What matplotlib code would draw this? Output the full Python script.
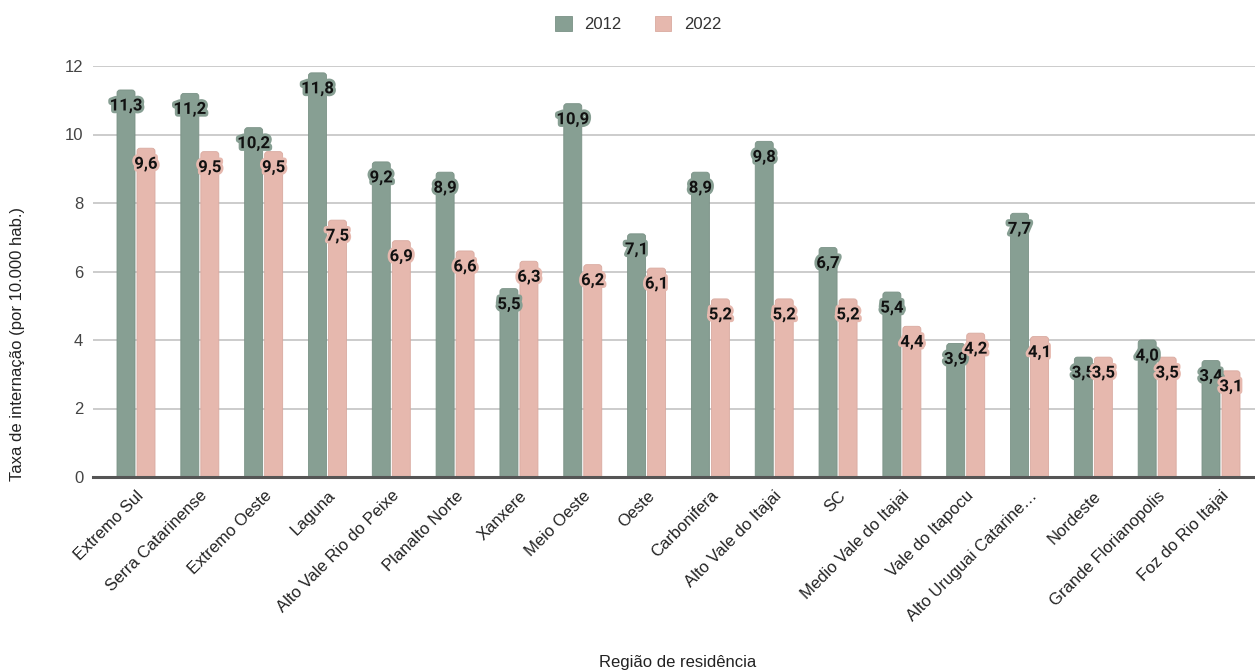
import matplotlib
matplotlib.use("Agg")
import matplotlib.pyplot as plt
import matplotlib.patheffects as pe
import numpy as np
from matplotlib.patches import FancyBboxPatch, Patch

categories = ["Extremo Sul", "Serra Catarinense", "Extremo Oeste", "Laguna",
              "Alto Vale Rio do Peixe", "Planalto Norte", "Xanxere", "Meio Oeste",
              "Oeste", "Carbonifera", "Alto Vale do Itajai", "SC",
              "Medio Vale do Itajai", "Vale do Itapocu", "Alto Uruguai Catarine…",
              "Nordeste", "Grande Florianopolis", "Foz do Rio Itajai"]
values_2012 = [11.3, 11.2, 10.2, 11.8, 9.2, 8.9, 5.5, 10.9, 7.1, 8.9, 9.8, 6.7,
               5.4, 3.9, 7.7, 3.5, 4.0, 3.4]
values_2022 = [9.6, 9.5, 9.5, 7.5, 6.9, 6.6, 6.3, 6.2, 6.1, 5.2, 5.2, 5.2,
               4.4, 4.2, 4.1, 3.5, 3.5, 3.1]
series_names = ["2012", "2022"]
yticks = [0, 2, 4, 6, 8, 10, 12]

colors = ["#879f93", "#e6b8ae"]
edges = ["#7a9286", "#d9aaa0"]

plt.rcParams['font.family'] = ['Liberation Sans', 'DejaVu Sans']

W, H = 1255, 672
fig = plt.figure(figsize=(W / 100, H / 100), dpi=100)
ax = fig.add_axes([93 / W, 1 - 477 / H, (W - 93) / W, (477 - 66) / H])

x = np.arange(len(categories))
px = 1 / 63.82  # data units per pixel in x
w = 18 * px
offsets = [-10 * px, 10 * px]
ypx = 12 / (477 - 66)

for s, (vals, name) in enumerate(zip([values_2012, values_2022], series_names)):
    bars = ax.bar(x + offsets[s], vals, width=w, color=colors[s], edgecolor=edges[s],
                  linewidth=0.6, label=name, zorder=3)
    for r in bars:
        r.set_visible(False)
        rs = 3 * px
        fb = FancyBboxPatch((r.get_x(), -5 * ypx), r.get_width(), r.get_height() + 5 * ypx,
                            boxstyle=f"round,pad=0,rounding_size={rs}",
                            mutation_aspect=ypx / px,
                            facecolor=colors[s], edgecolor=edges[s], linewidth=0.6,
                            zorder=3)
        ax.add_patch(fb)
    for xi, v in zip(x + offsets[s], vals):
        ax.text(xi, v - 16 * ypx, f"{v:.1f}".replace(".", ","), ha="center", va="center",
                fontsize=12, fontweight="bold", family=["Roboto", "DejaVu Sans"],
                color="#111111", zorder=5,
                path_effects=[pe.withStroke(linewidth=4, foreground=colors[s])])

ax.set_ylim(0, 12)
ax.set_xlim(-43 * px, 17 + 34 * px)
ax.set_yticks(yticks)
ax.set_yticklabels([str(t) for t in yticks], fontsize=12, color="#444444")
ax.set_xticks(x)
ax.set_xticklabels(categories, rotation=45, ha="right", rotation_mode="anchor",
                   fontsize=12, color="#222222")
ax.tick_params(axis="y", length=0, pad=7)
ax.tick_params(axis="x", length=0, pad=8)
ax.yaxis.grid(True, color="#c8c8c8", linewidth=1.3, zorder=0)
ax.set_axisbelow(True)
for sp in ["top", "right", "left"]:
    ax.spines[sp].set_visible(False)
ax.spines["bottom"].set_color("#555555")
ax.spines["bottom"].set_linewidth(2.2)
ax.spines["bottom"].set_zorder(4)

fig.text(18 / W, 1 - 344 / H, "Taxa de internação (por 10.000 hab.)", rotation=90,
         ha="center", va="center", fontsize=12, color="#222222")
fig.text(678 / W, 1 - 663 / H, "Região de residência", ha="center", va="center",
         fontsize=12, color="#222222")

handles = [Patch(facecolor=colors[i], edgecolor=edges[i], linewidth=0.6)
           for i in range(len(series_names))]
leg = fig.legend(handles, series_names, loc="center", bbox_to_anchor=(638 / W, 1 - 24 / H),
                 ncol=2, frameon=False, fontsize=12, handlelength=1.0, handleheight=1.0,
                 columnspacing=2.0, handletextpad=0.75)
for t in leg.get_texts():
    t.set_color("#333333")

fig.savefig("out.png", dpi=100)
